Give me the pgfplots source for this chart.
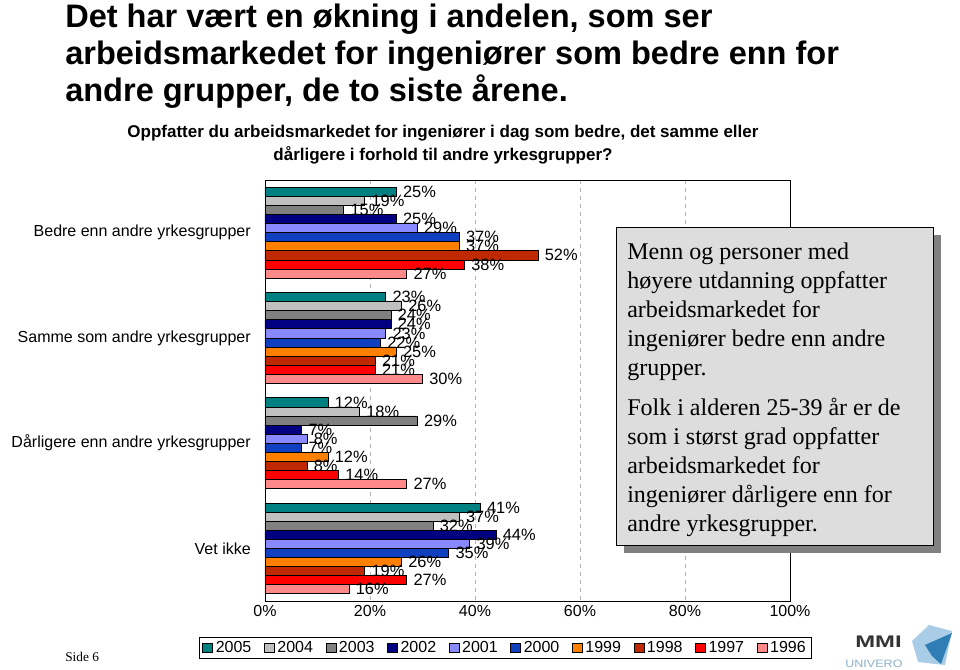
\documentclass[border=0pt]{standalone}
\usepackage{fontspec}
\setmainfont{Liberation Sans}
\newfontfamily\seriffont{Liberation Serif}
\usepackage{graphicx}
\usepackage{pgfplots}
\pgfplotsset{compat=1.18}
\definecolor{c2005}{RGB}{0,128,128}
\definecolor{c2004}{RGB}{192,192,192}
\definecolor{c2003}{RGB}{128,128,128}
\definecolor{c2002}{RGB}{0,0,128}
\definecolor{c2001}{RGB}{136,136,255}
\definecolor{c2000}{RGB}{16,64,192}
\definecolor{c1999}{RGB}{255,128,0}
\definecolor{c1998}{RGB}{192,40,0}
\definecolor{c1997}{RGB}{255,0,0}
\definecolor{c1996}{RGB}{255,136,136}
\definecolor{boxfill}{RGB}{221,221,221}
\definecolor{logoblue}{RGB}{47,125,181}
\definecolor{logolight}{RGB}{169,205,230}
\definecolor{logotext}{RGB}{140,175,200}
\begin{document}
\begin{tikzpicture}
\begin{scope}[x=0.75pt,y=-0.75pt]
\path (0,0) rectangle (960,669);
\end{scope}
\begin{axis}[
  at={(198.75pt,-450.75pt)}, anchor=south west,
  scale only axis, width=393.75pt, height=315.75pt,
  /pgf/number format/assume math mode=true,
  xbar=0pt, bar width=6.8pt,
  xmin=0, xmax=100, ymin=-0.5, ymax=3.5, y dir=reverse,
  ytick={0,1,2,3},
  yticklabels={Bedre enn andre yrkesgrupper,Samme som andre yrkesgrupper,Dårligere enn andre yrkesgrupper,Vet ikke},
  yticklabel style={font=\fontsize{12}{14}\selectfont, inner xsep=0pt, xshift=-10.5pt},
  xtick={0,20,40,60,80,100},
  xticklabel={\pgfmathprintnumber{\tick}\%},
  xticklabel style={font=\fontsize{12}{14}\selectfont},
  major tick length=0pt,
  xmajorgrids, grid style={dashed, black!30},
  axis line style={black, line width=0.6pt},
  point meta=x,
  nodes near coords={\pgfmathprintnumber{\pgfplotspointmeta}\%},
  every node near coord/.append style={font=\fontsize{12.3}{14}\selectfont, anchor=west, xshift=1.5pt, black},
  legend columns=10,
  reverse legend,
  legend style={at={(0.458,-0.1105)}, anchor=center, draw=black, line width=0.6pt,
    font=\fontsize{12}{14}\selectfont, inner xsep=2pt, inner ysep=1pt,
    /tikz/every even column/.append style={column sep=7.5pt}},
  legend image code/.code={\draw[#1, draw=black, line width=0.5pt] (0pt,-3.5pt) rectangle (7.5pt,3.5pt);},
  every axis plot/.append style={draw=black, line width=0.5pt},
]
\addplot[fill=c1996] coordinates {(27,0) (30,1) (27,2) (16,3)};
\addplot[fill=c1997] coordinates {(38,0) (21,1) (14,2) (27,3)};
\addplot[fill=c1998] coordinates {(52,0) (21,1) (8,2) (19,3)};
\addplot[fill=c1999] coordinates {(37,0) (25,1) (12,2) (26,3)};
\addplot[fill=c2000] coordinates {(37,0) (22,1) (7,2) (35,3)};
\addplot[fill=c2001] coordinates {(29,0) (23,1) (8,2) (39,3)};
\addplot[fill=c2002] coordinates {(25,0) (24,1) (7,2) (44,3)};
\addplot[fill=c2003] coordinates {(15,0) (24,1) (29,2) (32,3)};
\addplot[fill=c2004] coordinates {(19,0) (26,1) (18,2) (37,3)};
\addplot[fill=c2005] coordinates {(25,0) (23,1) (12,2) (41,3)};
\legend{1996,1997,1998,1999,2000,2001,2002,2003,2004,2005}
\end{axis}
\begin{scope}[x=0.75pt,y=-0.75pt]
% titles
\begin{scope}[every node/.style={inner sep=0pt, font=\bfseries\fontsize{24.4}{28}\selectfont}]
\node[anchor=base west] at (65,27) {Det har vært en økning i andelen, som ser};
\node[anchor=base west] at (65,64) {arbeidsmarkedet for ingeniører som bedre enn for};
\node[anchor=base west] at (65,101) {andre grupper, de to siste årene.};
\end{scope}
\begin{scope}[every node/.style={inner sep=0pt, font=\bfseries\fontsize{12.75}{15}\selectfont}]
\node[anchor=base] at (443,137) {Oppfatter du arbeidsmarkedet for ingeniører i dag som bedre, det samme eller};
\node[anchor=base] at (443,160) {dårligere i forhold til andre yrkesgrupper?};
\end{scope}
% text box
\fill[black!50] (624,235) rectangle (941,553);
\draw[black, fill=boxfill, line width=0.6pt] (616,227) rectangle (933,545);
\begin{scope}[every node/.style={inner sep=0pt, anchor=base west, font=\seriffont\fontsize{18}{21}\selectfont}]
\node at (627,259) {Menn og personer med};
\node at (627,288) {høyere utdanning oppfatter};
\node at (627,317) {arbeidsmarkedet for};
\node at (627,346) {ingeniører bedre enn andre};
\node at (627,375) {grupper.};
\node at (627,415) {Folk i alderen 25-39 år er de};
\node at (627,444) {som i størst grad oppfatter};
\node at (627,473) {arbeidsmarkedet for};
\node at (627,502) {ingeniører dårligere enn for};
\node at (627,531) {andre yrkesgrupper.};
\end{scope}
% footer
\node[inner sep=0pt, anchor=base west, font=\seriffont\fontsize{10}{12}\selectfont] at (65,661) {Side 6};
\node[inner sep=0pt, anchor=base west, font=\bfseries\fontsize{12.6}{15}\selectfont, text=black!80] at (855,647) {\scalebox{1.42}[1]{MMI}};
\node[inner sep=0pt, anchor=base west, font=\fontsize{8}{10}\selectfont, text=logotext] at (845,667) {\scalebox{1.18}[1]{UNIVERO}};
\fill[logolight] (912,641) -- (929,625) -- (952,631) -- (945,665) -- (918,662) -- cycle;
\fill[logoblue] (925,645) -- (952,633) -- (941,664) -- (932,656) -- cycle;
\end{scope}
\end{tikzpicture}
\end{document}
